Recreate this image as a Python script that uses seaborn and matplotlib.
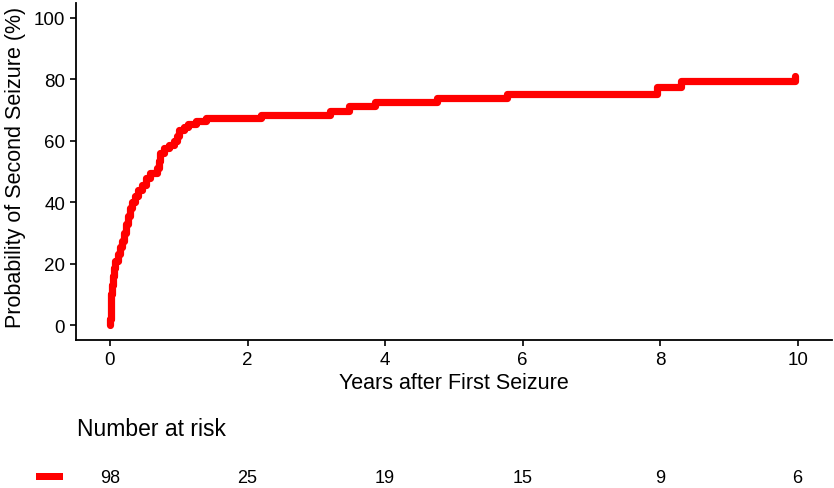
import seaborn as sns
import pandas as pd
import matplotlib.pyplot as plt
import matplotlib.transforms as mtransforms
from matplotlib.patches import Rectangle

# Kaplan-Meier style cumulative probability of a second seizure
years = [0.00, 0.005, 0.01, 0.015, 0.02, 0.03, 0.045, 0.06, 0.08, 0.11, 0.14, 0.17,
         0.20, 0.23, 0.26, 0.29, 0.32, 0.36, 0.41, 0.46, 0.53, 0.58, 0.68, 0.71,
         0.73, 0.78, 0.86, 0.93, 0.97, 1.00, 1.07, 1.14, 1.25, 1.40, 2.20, 3.20,
         3.47, 3.85, 4.75, 5.77, 7.96, 8.30, 9.96]
prob = [0, 2, 4, 7, 10, 13, 16, 18.5, 21, 23, 25.5, 27.5,
        30, 33, 35.5, 38, 40, 42, 44, 45.5, 48, 49.5, 51, 53.5,
        56, 57.5, 58.5, 60, 61.5, 63.5, 64.5, 65.5, 66.5, 67.5, 68.5, 69.8,
        71.2, 72.5, 73.8, 75.2, 77.4, 79.6, 81.2]

risk_years = [0, 2, 4, 6, 8, 10]
risk_n = [98, 25, 19, 15, 9, 6]

x_ticks = [0, 2, 4, 6, 8, 10]
y_ticks = [0, 20, 40, 60, 80, 100]

sns.set_theme(style='white')
plt.rcParams['font.family'] = ['Liberation Sans', 'DejaVu Sans']

df = pd.DataFrame({'years': years, 'prob': prob})

fig = plt.figure(figsize=(8.34, 4.89), dpi=100)
ax = fig.add_axes([75.6 / 834, 1 - 341.4 / 489, 756.4 / 834, 337.8 / 489])

sns.lineplot(data=df, x='years', y='prob', ax=ax, color='#ff0000', linewidth=5.2,
             drawstyle='steps-post', estimator=None, sort=False)

ax.set_xlim(-0.5, 10.5)
ax.set_ylim(-5, 105)
ax.set_xticks(x_ticks)
ax.set_yticks(y_ticks)
ax.set_xlabel('Years after First Seizure', fontsize=15.5, color='black', labelpad=3)
ax.set_ylabel('Probability of Second Seizure (%)', fontsize=15.5, color='black')
ax.yaxis.set_label_coords(-0.066, 0.515)

sns.despine(ax=ax)
for side in ['left', 'bottom']:
    ax.spines[side].set_color('black')
    ax.spines[side].set_linewidth(1.3)
ax.tick_params(axis='both', which='major', labelsize=13.5, colors='black',
               length=4.5, width=1.2, pad=3, left=True, bottom=True)

# number at risk table
fig.text(77 / 834, 1 - 429 / 489, 'Number at risk', fontsize=16.5, ha='left', va='center',
         color='black')
trans = mtransforms.blended_transform_factory(ax.transData, fig.transFigure)
for yr, n in zip(risk_years, risk_n):
    ax.text(yr, 1 - 479 / 489, str(n), transform=trans, fontsize=13,
            ha='center', va='center', color='black', clip_on=False)
fig.patches.append(Rectangle((36 / 834, 1 - 481 / 489), 27 / 834, 7 / 489,
                             transform=fig.transFigure, facecolor='#ff0000',
                             edgecolor='none'))

fig.savefig('out.png', dpi=100)
